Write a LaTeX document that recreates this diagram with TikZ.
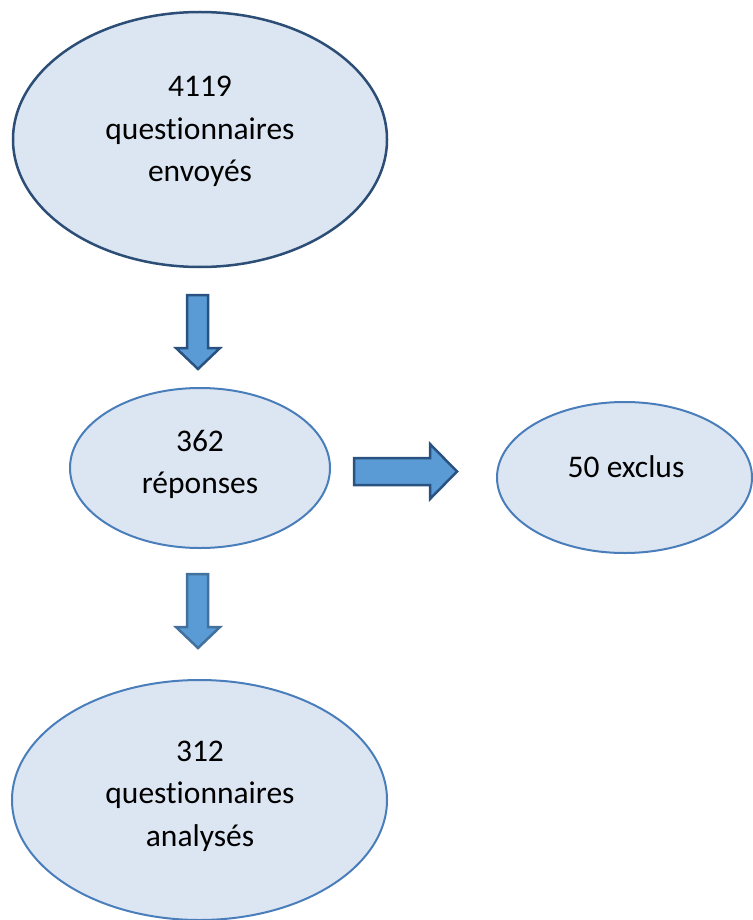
\documentclass[tikz,border=0pt]{standalone}
\usepackage{fontspec}
\setmainfont{Carlito}[Ligatures=NoCommon]
\usetikzlibrary{shapes.geometric}

\definecolor{bubblefill}{RGB}{220,230,242}
\definecolor{bubbleline}{RGB}{74,126,187}
\definecolor{bubbledark}{RGB}{44,77,117}
\definecolor{arrowfill}{RGB}{91,155,213}
\definecolor{arrowline}{RGB}{42,82,128}
\definecolor{arrowlight}{RGB}{65,113,156}

\begin{document}
\begin{tikzpicture}[x=1pt, y=-1pt,
    bubble/.style={ellipse, draw=bubbleline, fill=bubblefill, line width=2pt, inner sep=0pt},
    bubbletext/.style={align=center, anchor=base, font=\fontsize{31.5}{42.5}\selectfont},
    blockarrow/.style={draw=arrowline, fill=arrowfill, line width=2.5pt, line join=miter}]

\useasboundingbox (0,0) rectangle (752,920);

% the four ellipses
\node[bubble, draw=bubbledark, line width=2.5pt, minimum width=374pt, minimum height=255pt]
     (sent) at (200,139.5) {};
\node[bubble, minimum width=260pt, minimum height=160pt] (replies) at (200,468) {};
\node[bubble, minimum width=255pt, minimum height=151pt] (excluded) at (624.5,477.5) {};
\node[bubble, minimum width=375pt, minimum height=240pt] (analysed) at (199.5,800) {};

% texts, placed by the baseline of their last line
\node[bubbletext] (sentText) at (200,182) {4119\\questionnaires\\envoyés};
\node[bubbletext] (repliesText) at (200,493.5) {362\\réponses};
\node[bubbletext] (excludedText) at (626,477) {50 exclus};
\node[bubbletext] (analysedText) at (200,846) {312\\questionnaires\\analysés};

% block arrows
\draw[blockarrow] (187,295) -- (208,295) -- (208,348) -- (220,348) -- (198,369)
     -- (176,348) -- (187,348) -- cycle;
\draw[blockarrow] (354,458) -- (430,458) -- (430,444) -- (457,471.5) -- (430,499)
     -- (430,485) -- (354,485) -- cycle;
\draw[blockarrow, draw=arrowlight] (187,574) -- (208,574) -- (208,627) -- (220,627)
     -- (198,648) -- (176,627) -- (187,627) -- cycle;

\end{tikzpicture}
\end{document}
